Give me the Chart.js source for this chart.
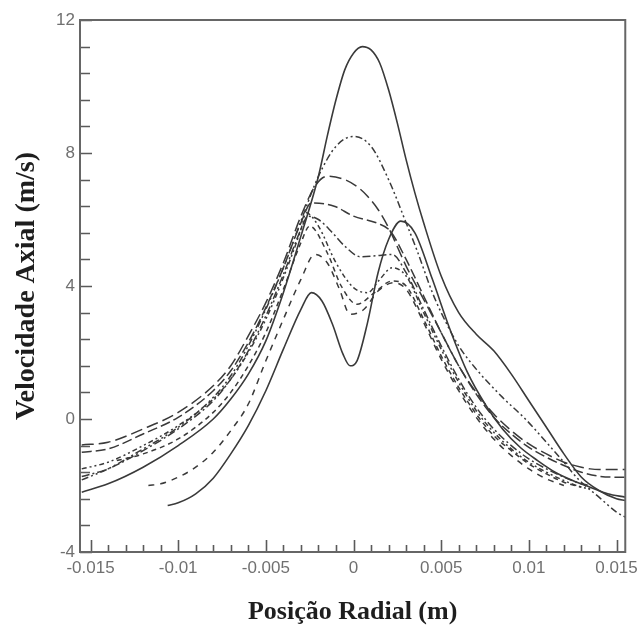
<!DOCTYPE html>
<html><head><meta charset="utf-8">
<script src="https://cdn.jsdelivr.net/npm/chart.js@4.4.0/dist/chart.umd.min.js"></script>
<style>html,body{margin:0;padding:0;background:#fff;}#wrap{width:644px;height:628px;}</style>
</head><body><div id="wrap"><canvas id="c" width="644" height="628"></canvas></div>
<script>
// Tick labels
const xTickValues = [-0.015,-0.01,-0.005,0,0.005,0.01,0.015];
const xTickLabels = ['-0.015','-0.01','-0.005','0','0.005','0.01','0.015'];
const yTickValues = [-4,0,4,8,12];
const yTickLabels = ['-4','0','4','8','12'];

// Series (x in m, y in m/s)
const solidAX = [-0.0155,-0.014,-0.012,-0.010,-0.008,-0.007,-0.006,-0.005,-0.004,-0.003,-0.002,-0.0015,-0.001,-0.0005,0,0.0005,0.001,0.0015,0.002,0.0025,0.003,0.0035,0.004,0.005,0.006,0.007,0.008,0.009,0.010,0.011,0.012,0.013,0.014,0.015,0.0155];
const solidAY = [-2.2,-1.95,-1.45,-0.8,0.0,0.6,1.35,2.35,3.8,5.5,7.3,8.5,9.6,10.5,11.0,11.2,11.1,10.7,9.9,8.9,7.8,6.8,5.9,4.3,3.2,2.55,2.05,1.35,0.55,-0.25,-1.05,-1.75,-2.15,-2.4,-2.45];

const solidBX = [-0.0106,-0.010,-0.009,-0.008,-0.007,-0.006,-0.005,-0.004,-0.003,-0.0024,-0.0018,-0.0012,-0.0006,-0.0002,0.0002,0.0008,0.0014,0.002,0.0027,0.0035,0.0045,0.0055,0.0065,0.0075,0.0085,0.0095,0.0105,0.0115,0.0125,0.0135,0.0145,0.0155];
const solidBY = [-2.6,-2.52,-2.25,-1.78,-1.05,-0.2,0.85,2.1,3.3,3.8,3.55,2.85,1.95,1.6,1.75,2.9,4.4,5.4,5.95,5.6,4.2,2.7,1.4,0.45,-0.3,-0.85,-1.25,-1.6,-1.85,-2.05,-2.25,-2.35];

const dashDotDotX = [-0.0155,-0.014,-0.012,-0.010,-0.008,-0.007,-0.006,-0.005,-0.004,-0.003,-0.002,-0.001,0,0.001,0.002,0.003,0.0036,0.0045,0.005,0.006,0.007,0.0085,0.0098,0.011,0.012,0.0128,0.014,0.015,0.0155];
const dashDotDotY = [-1.83,-1.5,-0.9,-0.25,0.65,1.3,2.2,3.3,4.55,5.95,7.3,8.2,8.5,8.2,7.2,5.9,5.1,3.8,3.2,2.2,1.5,0.65,0.0,-0.7,-1.3,-1.8,-2.35,-2.8,-2.95];

const longDash1X = [-0.0155,-0.014,-0.012,-0.010,-0.008,-0.007,-0.006,-0.005,-0.004,-0.003,-0.0022,-0.0015,-0.0005,0.0003,0.0008,0.0014,0.002,0.003,0.004,0.005,0.006,0.007,0.008,0.009,0.010,0.011,0.012,0.013,0.0135,0.014,0.015,0.0155];
const longDash1Y = [-0.78,-0.7,-0.3,0.2,1.0,1.6,2.5,3.5,4.7,6.1,7.0,7.3,7.2,6.95,6.7,6.3,5.75,4.6,3.6,2.6,1.6,0.8,0.15,-0.35,-0.75,-1.05,-1.3,-1.45,-1.5,-1.52,-1.52,-1.52];

const longDash2X = [-0.0155,-0.014,-0.012,-0.010,-0.008,-0.007,-0.006,-0.005,-0.004,-0.003,-0.0024,-0.0011,0.0,0.0014,0.0021,0.003,0.004,0.005,0.006,0.007,0.008,0.009,0.010,0.011,0.012,0.013,0.014,0.015,0.0155];
const longDash2Y = [-1.0,-0.9,-0.45,0.05,0.85,1.45,2.3,3.35,4.55,5.9,6.5,6.4,6.1,5.88,5.65,4.8,3.7,2.6,1.6,0.75,0.05,-0.45,-0.85,-1.15,-1.4,-1.6,-1.72,-1.75,-1.75];

const dashDot1X = [-0.0155,-0.014,-0.012,-0.010,-0.008,-0.007,-0.006,-0.005,-0.004,-0.003,-0.0026,-0.002,-0.0012,-0.0005,0.0004,0.0015,0.0022,0.003,0.004,0.005,0.006,0.007,0.008,0.009,0.010,0.011,0.012,0.013,0.0135];
const dashDot1Y = [-1.73,-1.5,-0.95,-0.3,0.55,1.2,2.05,3.1,4.35,5.7,6.1,6.0,5.6,5.2,4.88,4.92,4.95,4.4,3.3,2.2,1.2,0.35,-0.3,-0.8,-1.2,-1.5,-1.75,-1.95,-2.0];

const dashDot2X = [-0.0155,-0.014,-0.012,-0.010,-0.008,-0.007,-0.006,-0.005,-0.004,-0.003,-0.0027,-0.002,-0.001,0.0,0.0008,0.0015,0.0022,0.003,0.004,0.005,0.006,0.007,0.008,0.009,0.010,0.011,0.012,0.013,0.0135];
const dashDot2Y = [-1.5,-1.3,-0.8,-0.2,0.6,1.2,2.0,3.0,4.25,5.7,6.2,5.8,4.7,3.95,3.8,4.2,4.55,4.3,3.2,2.1,1.1,0.25,-0.4,-0.9,-1.3,-1.6,-1.85,-2.05,-2.1];

const shortDash1X = [-0.0135,-0.012,-0.010,-0.008,-0.007,-0.006,-0.005,-0.004,-0.003,-0.0025,-0.0015,-0.0007,0.0002,0.0012,0.0022,0.003,0.004,0.005,0.006,0.007,0.008,0.009,0.010,0.011,0.012,0.013];
const shortDash1Y = [-1.25,-1.05,-0.6,0.2,0.8,1.6,2.6,3.9,5.3,5.8,5.0,4.0,3.45,3.8,4.15,4.0,3.0,1.9,0.95,0.15,-0.5,-0.95,-1.35,-1.65,-1.9,-2.05];

const shortDash2X = [-0.0117,-0.011,-0.010,-0.009,-0.008,-0.007,-0.006,-0.005,-0.004,-0.003,-0.0022,-0.0015,-0.0008,-0.0002,0.0006,0.0014,0.0023,0.003,0.004,0.005,0.006,0.007,0.008,0.009,0.010,0.011,0.012];
const shortDash2Y = [-2.0,-1.95,-1.75,-1.45,-1.0,-0.35,0.45,1.75,3.0,4.2,4.95,4.7,3.9,3.15,3.3,3.85,4.1,3.9,2.9,1.8,0.85,0.05,-0.6,-1.1,-1.5,-1.8,-2.0];

const pts = (xs, ys) => xs.map((x, i) => ({x: x, y: ys[i]}));
const LINE = '#3a3a3a';
function ds(label, xs, ys, dash, w) {
  return {label, data: pts(xs, ys), borderColor: LINE, borderWidth: w || 1.5,
    borderDash: dash, pointRadius: 0, fill: false, cubicInterpolationMode: 'monotone'};
}

const frameTicks = {
  id: 'frameTicks',
  afterDatasetsDraw(chart) {
    const {ctx, chartArea: a, scales: {x, y}} = chart;
    ctx.save();
    ctx.strokeStyle = '#5a5a5a';
    ctx.lineWidth = 1.6;
    ctx.beginPath();
    for (let k = -15; k <= 15; k++) {
      const v = k * 0.001;
      const px = Math.round(x.getPixelForValue(v)) + 0.5;
      const major = k % 5 === 0;
      ctx.moveTo(px, a.bottom);
      ctx.lineTo(px, a.bottom - (major ? 12 : 7));
    }
    for (let k = -5; k <= 15; k++) {
      const v = k * 0.8;
      const py = Math.round(y.getPixelForValue(v)) + 0.5;
      const major = k % 5 === 0;
      ctx.moveTo(a.left, py);
      ctx.lineTo(a.left + (major ? 12 : 10), py);
    }
    ctx.stroke();
    ctx.lineWidth = 2;
    ctx.strokeStyle = '#666';
    ctx.strokeRect(a.left, a.top, a.right - a.left, a.bottom - a.top);
    ctx.restore();
  }
};

const tickFont = {family: 'Liberation Sans', size: 17};
const titleFont = {family: 'Liberation Serif', size: 26, weight: 'bold'};

new Chart(document.getElementById('c'), {
  type: 'line',
  data: {
    datasets: [
      ds('A', solidAX, solidAY, [], 1.6),
      ds('B', solidBX, solidBY, [], 1.6),
      ds('C', dashDotDotX, dashDotDotY, [7,3,2,3,2,3]),
      ds('D', longDash1X, longDash1Y, [12,5]),
      ds('E', longDash2X, longDash2Y, [10,4]),
      ds('F', dashDot1X, dashDot1Y, [8,3,2,3]),
      ds('G', dashDot2X, dashDot2Y, [5,3,2,3,2,3]),
      ds('H', shortDash1X, shortDash1Y, [5,4]),
      ds('I', shortDash2X, shortDash2Y, [6,6])
    ]
  },
  options: {
    responsive: false, animation: false, devicePixelRatio: 1,
    layout: {padding: {top: 20, right: 14, left: 0, bottom: 0}},
    plugins: {legend: {display: false}, tooltip: {enabled: false}},
    scales: {
      x: {
        type: 'linear', min: -0.0156, max: 0.0155,
        afterBuildTicks: s => { s.ticks = xTickValues.map(v => ({value: v})); },
        afterFit: s => { s.height = 76; },
        grid: {display: false, drawTicks: false},
        border: {display: false},
        ticks: {font: tickFont, color: '#707070', padding: 6, maxRotation: 0, autoSkip: false,
          callback: v => xTickLabels[xTickValues.indexOf(v)]},
        title: {display: true, text: 'Posição Radial (m)', font: titleFont, color: '#1e1e1e', padding: {top: 0, bottom: 0}}
      },
      y: {
        type: 'linear', min: -4, max: 12,
        afterBuildTicks: s => { s.ticks = yTickValues.map(v => ({value: v})); },
        afterFit: s => { s.width = 80; },
        grid: {display: false, drawTicks: false},
        border: {display: false},
        ticks: {font: tickFont, color: '#707070', padding: 5,
          callback: v => yTickLabels[yTickValues.indexOf(v)]},
        title: {display: true, text: 'Velocidade Axial (m/s)', font: {family: 'Liberation Serif', size: 28, weight: 'bold'}, color: '#1e1e1e', padding: {top: 10, bottom: 0}}
      }
    }
  },
  plugins: [frameTicks]
});
</script></body></html>
